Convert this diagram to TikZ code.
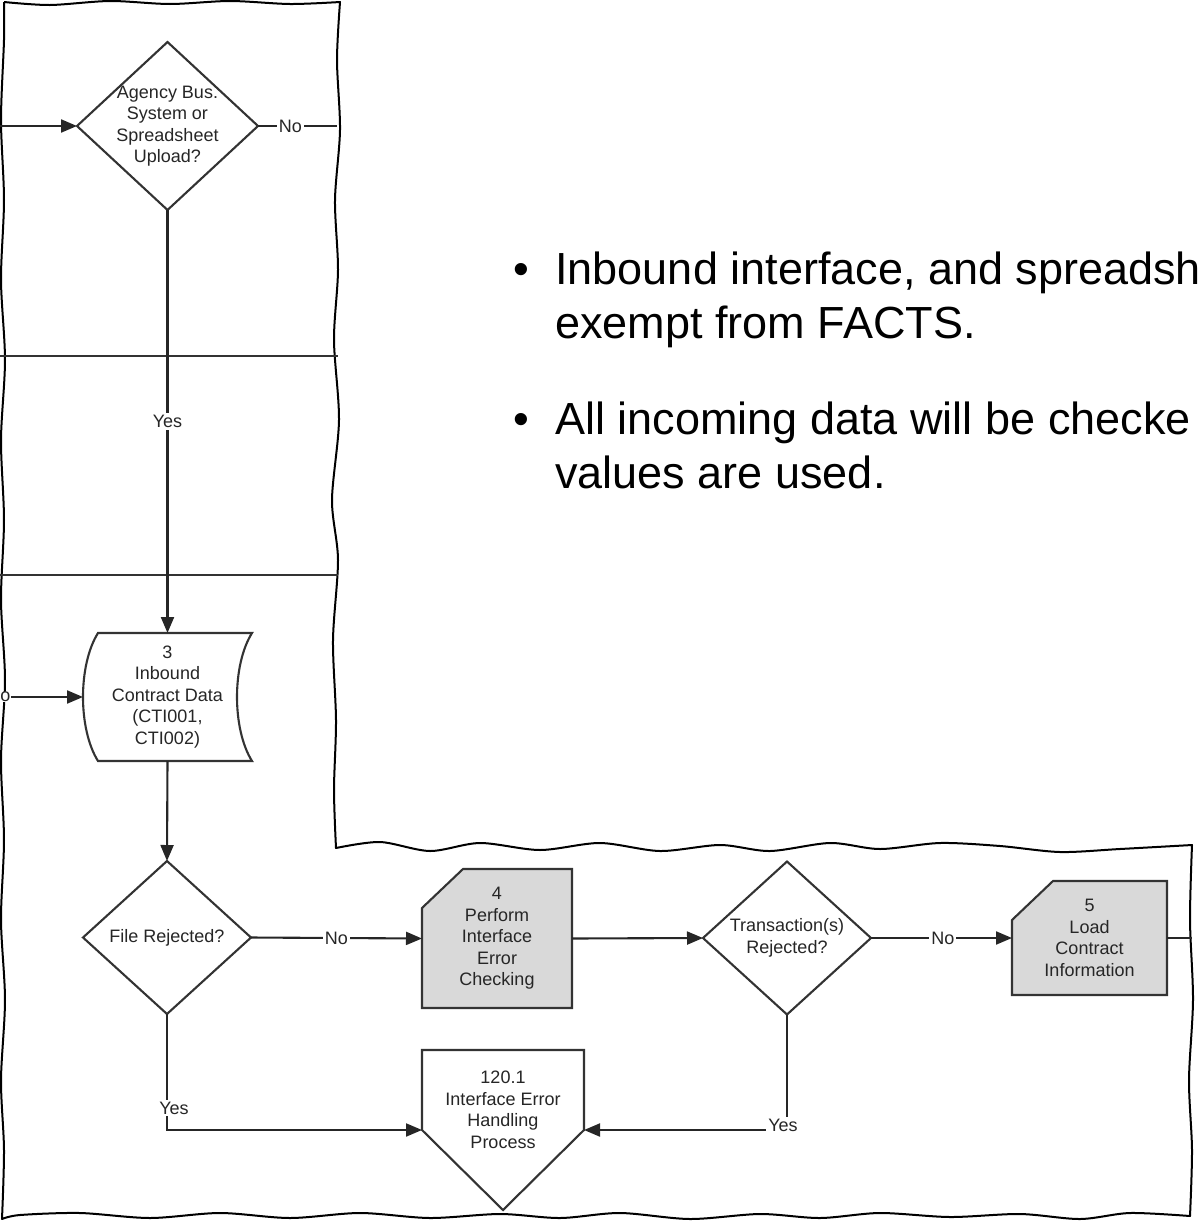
\documentclass[tikz,border=0pt]{standalone}
\usepackage{fontspec}
\setmainfont{Liberation Sans}
\usetikzlibrary{arrows.meta,shapes.geometric}
\newcommand{\fsm}{\fontsize{9}{10.75}\selectfont}
\newcommand{\fbig}{\fontsize{22.5}{27}\selectfont}
\begin{document}
\begin{tikzpicture}[x=0.5pt,y=-0.5pt,
  outline/.style={draw=black, line width=1pt, line join=round},
  lane/.style={draw=black!80, line width=1.05pt},
  conn/.style={draw=black!85, line width=1.05pt},
  arr/.style={conn, -{Triangle[length=8pt,width=6.5pt]}},
  lbl/.style={font=\fsm, text=black!85, fill=white, inner sep=1pt},
  dec/.style={diamond, draw=black!80, line width=1.05pt, fill=white, inner sep=-15pt, outer sep=0pt, font=\fsm, text=black!85, align=center},
  box/.style={rectangle, inner sep=0pt, outer sep=0pt, font=\fsm, text=black!85, align=center},
  shp/.style={draw=black!80, line width=1.05pt, line join=miter, fill=white},
  gshp/.style={shp, fill=black!15},
  big/.style={font=\fbig, text=black, inner sep=0pt, anchor=base west}
]
\useasboundingbox (0,0) rectangle (1198,1221);
% torn-paper outline
\draw[outline]
  plot[smooth,tension=0.5] coordinates {(4,2) (50,5) (110,1) (170,4) (230,1) (290,4) (340,2)}
  -- plot[smooth,tension=0.5] coordinates {(340,2) (337,60) (340,130) (335,200) (338,270) (334,340) (339,420) (332,500) (338,560) (333,640) (336,720) (334,790) (336,848)}
  -- plot[smooth,tension=0.5] coordinates {(336,848) (380,842) (430,851) (480,843) (540,850) (600,843) (660,851) (720,845) (770,851) (830,843) (880,849) (940,843) (1000,846) (1060,852) (1120,849) (1192,845)}
  -- plot[smooth,tension=0.5] coordinates {(1192,845) (1190,920) (1193,1000) (1189,1080) (1192,1150) (1190,1216)}
  -- plot[smooth,tension=0.5] coordinates {(1190,1216) (1130,1213) (1080,1219) (1020,1214) (950,1217) (880,1213) (820,1218) (760,1214) (690,1219) (620,1213) (560,1218) (500,1214) (430,1218) (360,1213) (290,1218) (220,1213) (150,1218) (80,1213) (20,1215) (2,1219)}
  -- plot[smooth,tension=0.5] coordinates {(2,1219) (4,1150) (1,1080) (5,1000) (1,920) (4,840) (1,760) (5,680) (1,600) (4,520) (1,440) (5,360) (1,280) (4,200) (1,120) (4,40) (4,2)};
% swimlane dividers
\draw[lane] (0,356) -- (338,356);
\draw[lane] (0,575) -- (338,575);
% shape outlines
\draw[gshp] (422,908) -- (463,869) -- (572,869) -- (572,1008) -- (422,1008) -- cycle;
\draw[gshp] (1012,920) -- (1053,881) -- (1167,881) -- (1167,995) -- (1012,995) -- cycle;
\draw[shp] (98,633) -- (252,633) .. controls (232,665) and (232,729) .. (252,761) -- (98,761) .. controls (78,729) and (78,665) .. (98,633) -- cycle;
\draw[shp] (422,1050) -- (584,1050) -- (584,1130) -- (503,1210) -- (422,1130) -- cycle;
% nodes
\node[dec, minimum width=90.5pt, minimum height=84pt] (d1) at (167.5,126) {Agency Bus.\\System or\\Spreadsheet\\Upload?};
\node[dec, minimum width=84pt, minimum height=76.5pt] (d2) at (167,937.5) {File Rejected?};
\node[dec, minimum width=84pt, minimum height=76.5pt] (d3) at (787,938) {Transaction(s)\\Rejected?};
\node[box, minimum width=75pt, minimum height=69.5pt] (b4) at (497,938.5) {4\\Perform\\Interface\\Error\\Checking};
\node[box, minimum width=77.5pt, minimum height=57pt] (b5) at (1089.5,938) {5\\Load\\Contract\\Information};
\node[box, minimum width=84.5pt, minimum height=64pt] (doc) at (167.5,697) {3\\Inbound\\Contract Data\\(CTI001,\\CTI002)};
\node[box, minimum width=81pt, minimum height=40pt] (p120) at (503,1090) {};
\node[box] (p120t) at (503,1110) {120.1\\Interface Error\\Handling\\Process};
\coordinate (inL) at (0,126);
\coordinate (outR) at (337,126);
\coordinate (outB5) at (1192,938);
\node[lbl, anchor=west, inner sep=0pt] (oL) at (0,697) {o};
% connectors
\draw[arr] (inL) -- (d1.west);
\draw[conn] (d1.east) -- node[lbl, pos=0.41] {No} (outR);
\draw[arr] (d1.south) -- node[lbl] {Yes} (doc.north);
\draw[arr] (oL.east) -- (doc.west);
\draw[arr] (doc.south) -- (d2.north);
\draw[arr] (d2.east) -- node[lbl] {No} (b4.west);
\draw[arr] (b4.east) -- (d3.west);
\draw[arr] (d3.east) -- node[lbl, pos=0.51] {No} (b5.west);
\draw[conn] (b5.east) -- (outB5);
\draw[arr] (d2.south) |- node[lbl, pos=0.405, xshift=3.5pt] {Yes} (p120.south west);
\draw[arr] (d3.south) |- node[lbl, pos=0.5, xshift=-2pt, yshift=2.5pt] {Yes} (p120.south east);
% bullet text
\node[big] (bul1) at (513,284) {•};
\node[big] (t1) at (555,284) {Inbound interface, and spreadsh};
\node[big] (t2) at (555,338) {exempt from FACTS.};
\node[big] (bul2) at (513,434) {•};
\node[big] (t3) at (555,434) {All incoming data will be checke};
\node[big] (t4) at (555,488) {values are used.};
\end{tikzpicture}
\end{document}
